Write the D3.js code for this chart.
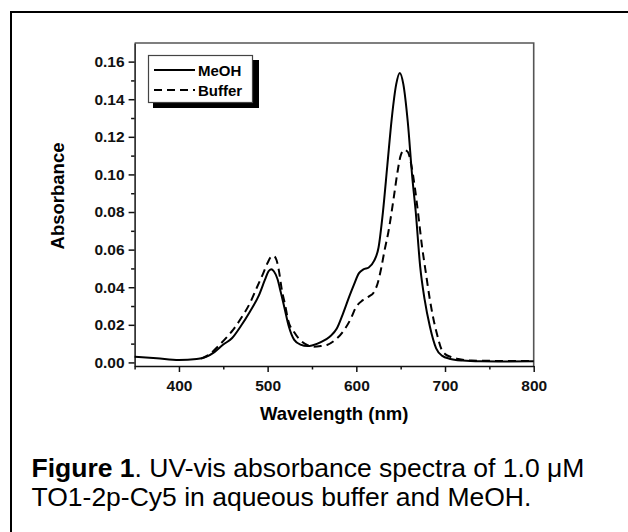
<!DOCTYPE html>
<html>
<head>
<meta charset="utf-8">
<script src="https://cdn.jsdelivr.net/npm/d3@7"></script>
<style>
  body { margin: 0; background: #fff; }
  svg { display: block; font-family: Arial, "Liberation Sans", sans-serif; }
  .axis path, .axis line { stroke: #111; stroke-width: 1.5; }
  .axis text { font-size: 15.5px; font-weight: bold; fill: #111; font-family: Arial, "Liberation Sans", sans-serif; }
</style>
</head>
<body>
<svg id="chart" width="628" height="532"></svg>
<script>
// Spectra (wavelength in nm, absorbance)
const meohWl  = [350, 375, 400, 420, 430, 440, 450, 460, 470, 480, 490, 497, 501, 504, 507, 511, 515, 519, 524, 530, 537, 545, 550, 560, 570, 578, 585, 592, 597, 603, 608, 614, 620, 625, 630, 635, 640, 645, 649, 653, 658, 663, 667, 672, 677, 683, 690, 697, 705, 720, 740, 770, 800];
const meohAbs = [0.0030, 0.0022, 0.0013, 0.0018, 0.0028, 0.0055, 0.0095, 0.0130, 0.0195, 0.0270, 0.0355, 0.0440, 0.0485, 0.0496, 0.0485, 0.0445, 0.0370, 0.0290, 0.0190, 0.0120, 0.0095, 0.0087, 0.0090, 0.0108, 0.0137, 0.0180, 0.0260, 0.0350, 0.0410, 0.0475, 0.0495, 0.0505, 0.0540, 0.0610, 0.0800, 0.1050, 0.1300, 0.1480, 0.1540, 0.1480, 0.1280, 0.0990, 0.0800, 0.0510, 0.0335, 0.0190, 0.0075, 0.0035, 0.0020, 0.0010, 0.0006, 0.0005, 0.0006];

const bufferWl  = [425, 435, 445, 455, 461, 470, 480, 488, 495, 500, 504, 507, 510, 513, 516, 520, 523, 530, 537, 545, 552, 560, 567, 575, 585, 593, 600, 607, 614, 620, 624, 628, 632, 636, 642, 646, 650, 654, 658, 662, 666, 670, 674, 678, 683, 687, 691, 696, 700, 706, 715, 730, 760, 800];
const bufferAbs = [0.0020, 0.0045, 0.0090, 0.0140, 0.0173, 0.0235, 0.0315, 0.0400, 0.0474, 0.0530, 0.0562, 0.0566, 0.0545, 0.0480, 0.0386, 0.0300, 0.0226, 0.0160, 0.0118, 0.0092, 0.0084, 0.0087, 0.0093, 0.0115, 0.0164, 0.0225, 0.0297, 0.0330, 0.0350, 0.0375, 0.0420, 0.0500, 0.0600, 0.0690, 0.0870, 0.1000, 0.1100, 0.1130, 0.1120, 0.1050, 0.0930, 0.0780, 0.0620, 0.0490, 0.0332, 0.0230, 0.0150, 0.0070, 0.0045, 0.0030, 0.0018, 0.0010, 0.0008, 0.0007];

const xTicks = [400, 500, 600, 700, 800];
const xMinor = [350, 450, 550, 650, 750];
const yTicks = [0.00, 0.02, 0.04, 0.06, 0.08, 0.10, 0.12, 0.14, 0.16];
const yMinor = [0.01, 0.03, 0.05, 0.07, 0.09, 0.11, 0.13, 0.15];
const seriesNames = ["MeOH", "Buffer"];

const svg = d3.select("#chart");

// outer figure frame (only top and left edges are visible)
svg.append("line").attr("x1", 11).attr("y1", 12).attr("x2", 628).attr("y2", 12)
  .attr("stroke", "#000").attr("stroke-width", 2.2);
svg.append("line").attr("x1", 11).attr("y1", 11).attr("x2", 11).attr("y2", 532)
  .attr("stroke", "#000").attr("stroke-width", 2);

const plot = { left: 134.6, right: 533.7, top: 43, bottom: 366 };

const x = d3.scaleLinear().domain([350, 800]).range([plot.left, plot.right]);
const y = d3.scaleLinear().domain([-0.0019, 0.1699]).range([plot.bottom, plot.top]);

// top and right frame
svg.append("path")
  .attr("d", `M${plot.left},${plot.top}H${plot.right}V${plot.bottom}`)
  .attr("fill", "none").attr("stroke", "#555").attr("stroke-width", 1.6);

// minor ticks
svg.append("g").attr("class", "axis")
  .attr("transform", `translate(0,${plot.bottom})`)
  .call(d3.axisBottom(x).tickValues(xMinor).tickSize(3.5).tickFormat(""))
  .call(g => g.select(".domain").remove());
svg.append("g").attr("class", "axis")
  .attr("transform", `translate(${plot.left},0)`)
  .call(d3.axisLeft(y).tickValues(yMinor).tickSize(3.5).tickFormat(""))
  .call(g => g.select(".domain").remove());

// major axes
svg.append("g").attr("class", "axis")
  .attr("transform", `translate(0,${plot.bottom})`)
  .call(d3.axisBottom(x).tickValues(xTicks).tickSize(6).tickPadding(8).tickSizeOuter(0))
  .call(g => g.selectAll("text").attr("dy", "0.71em"));
svg.append("g").attr("class", "axis")
  .attr("transform", `translate(${plot.left},0)`)
  .call(d3.axisLeft(y).tickValues(yTicks).tickSize(6).tickPadding(4).tickSizeOuter(0)
    .tickFormat(d3.format(".2f")));

// axis titles
svg.append("text")
  .attr("x", (plot.left + plot.right) / 2).attr("y", 420)
  .attr("text-anchor", "middle")
  .attr("font-size", 18.5).attr("font-weight", "bold")
  .text("Wavelength (nm)");
svg.append("text")
  .attr("transform", "translate(64,196) rotate(-90)")
  .attr("text-anchor", "middle")
  .attr("font-size", 18.5).attr("font-weight", "bold")
  .text("Absorbance");

// curves
const line = d3.line()
  .x(d => x(d[0]))
  .y(d => y(d[1]))
  .curve(d3.curveMonotoneX);

const meoh = d3.zip(meohWl, meohAbs);
const buffer = d3.zip(bufferWl, bufferAbs);

svg.append("path").datum(buffer)
  .attr("d", line).attr("fill", "none")
  .attr("stroke", "#000").attr("stroke-width", 2)
  .attr("stroke-dasharray", "8,5");
svg.append("path").datum(meoh)
  .attr("d", line).attr("fill", "none")
  .attr("stroke", "#000").attr("stroke-width", 2);

// legend
const lg = svg.append("g");
lg.append("rect").attr("x", 153).attr("y", 60).attr("width", 106).attr("height", 48)
  .attr("fill", "#000");
lg.append("rect").attr("x", 148.5).attr("y", 55.5).attr("width", 104).attr("height", 47)
  .attr("fill", "#fff").attr("stroke", "#444").attr("stroke-width", 1.2);
seriesNames.forEach((name, i) => {
  const yy = 70 + i * 20;
  lg.append("line").attr("x1", 154).attr("x2", 195).attr("y1", yy).attr("y2", yy)
    .attr("stroke", "#000").attr("stroke-width", 2)
    .attr("stroke-dasharray", i === 0 ? null : "8,5");
  lg.append("text").attr("x", 198).attr("y", yy + 5.5)
    .attr("font-size", 15).attr("font-weight", "bold")
    .text(name);
});

// caption
const cap = svg.append("text").attr("font-size", 26.5).attr("fill", "#000");
const l1 = cap.append("tspan").attr("x", 31.5).attr("y", 477);
l1.append("tspan").attr("font-weight", "bold").text("Figure 1");
l1.append("tspan").text(". UV-vis absorbance spectra of 1.0 \u03bcM");
cap.append("tspan").attr("x", 31.5).attr("y", 506)
  .text("TO1-2p-Cy5 in aqueous buffer and MeOH.");
</script>
</body>
</html>
